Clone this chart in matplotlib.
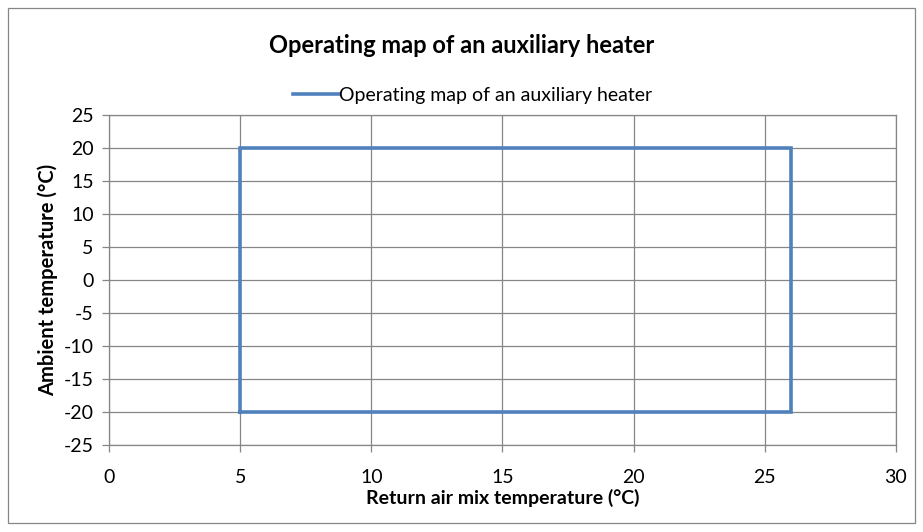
import matplotlib.pyplot as plt

# Operating map data (corners of the rectangle, closed)
return_air = [5, 26, 26, 5, 5]
ambient = [-20, -20, 20, 20, -20]

x_ticks = [0, 5, 10, 15, 20, 25, 30]
y_ticks = [25, 20, 15, 10, 5, 0, -5, -10, -15, -20, -25]

plt.rcParams["font.family"] = ["Lato", "DejaVu Sans"]
plt.rcParams["axes.unicode_minus"] = False

fig = plt.figure(figsize=(9.23, 5.32), dpi=100)
ax = fig.add_axes([0.1181, 0.1635, 0.8526, 0.6203])

ax.plot(return_air, ambient, color="#4F81BD", linewidth=2.6,
        label="Operating map of an auxiliary heater", solid_joinstyle="miter")

ax.set_xlim(0, 30)
ax.set_ylim(-25, 25)
ax.set_xticks(x_ticks)
ax.set_yticks(y_ticks)
ax.grid(True, color="#868686", linewidth=0.9)
ax.set_axisbelow(True)
for s in ax.spines.values():
    s.set_color("#868686")
    s.set_linewidth(0.9)
ax.tick_params(axis="both", colors="#868686", length=5, width=0.9,
               labelcolor="black", labelsize=14)
ax.tick_params(axis="x", pad=12)
ax.tick_params(axis="y", pad=6)

ax.set_xlabel("Return air mix temperature (°C)", fontsize=14, fontweight="bold", labelpad=2)
ax.set_ylabel("Ambient temperature (°C)", fontsize=14.5, fontweight="bold", labelpad=4)

fig.text(0.5, 0.915, "Operating map of an auxiliary heater", ha="center", va="center",
         fontsize=17, fontweight="bold")
ax.legend(loc="center", bbox_to_anchor=(0.512, 0.821), bbox_transform=fig.transFigure,
          frameon=False, fontsize=14, handlelength=2.4, handletextpad=0.0)

# outer chart border
fig.patches.append(plt.Rectangle((0.009, 0.016), 0.982, 0.969, transform=fig.transFigure,
                                 fill=False, edgecolor="#868686", linewidth=0.9))

plt.savefig("out.png", dpi=100)
